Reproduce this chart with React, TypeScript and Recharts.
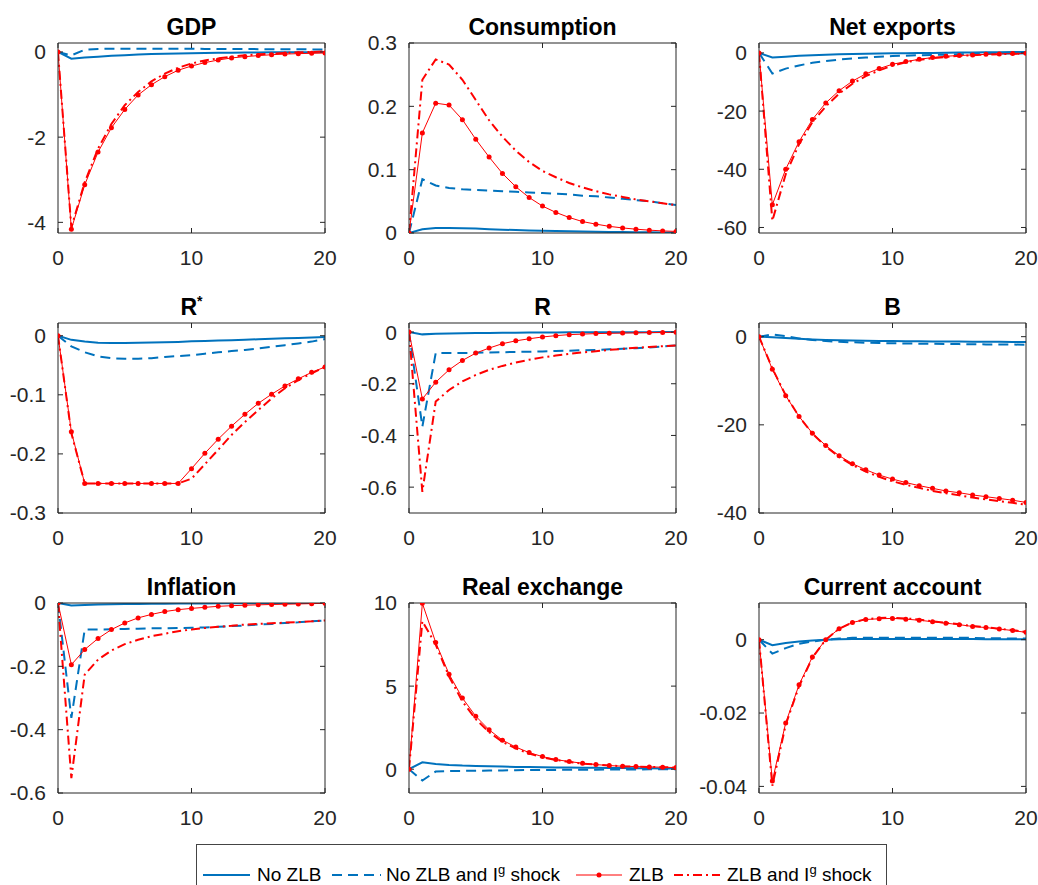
import React from 'react';
import { LineChart, Line, XAxis, YAxis } from 'recharts';

const periods = [0, 1, 2, 3, 4, 5, 6, 7, 8, 9, 10, 11, 12, 13, 14, 15, 16, 17, 18, 19, 20];
const xTicks = [0, 10, 20];

const seriesNames = ['No ZLB', 'No ZLB and I^g shock', 'ZLB', 'ZLB and I^g shock'];

// GDP
const gdpNoZLB = [0, -0.16, -0.13, -0.11, -0.09, -0.075, -0.062, -0.051, -0.042, -0.035, -0.029, -0.024, -0.02, -0.016, -0.013, -0.011, -0.009, -0.007, -0.006, -0.005, -0.004];
const gdpNoZLBIg = [0, -0.08, 0.05, 0.07, 0.075, 0.075, 0.075, 0.075, 0.075, 0.075, 0.075, 0.072, 0.07, 0.07, 0.068, 0.066, 0.065, 0.063, 0.062, 0.06, 0.058];
const gdpZLB = [0, -4.16, -3.12, -2.35, -1.78, -1.35, -1.01, -0.77, -0.58, -0.43, -0.33, -0.25, -0.19, -0.14, -0.11, -0.086, -0.065, -0.05, -0.04, -0.032, -0.025];
const gdpZLBIg = [0, -4.12, -3.06, -2.27, -1.69, -1.25, -0.94, -0.69, -0.51, -0.37, -0.27, -0.2, -0.15, -0.11, -0.08, -0.055, -0.04, -0.025, -0.012, 0, 0.01];
const gdpTicks = [-4, -2, 0];

// Consumption
const conNoZLB = [0, 0.006, 0.008, 0.008, 0.0075, 0.007, 0.006, 0.0053, 0.0046, 0.004, 0.0035, 0.003, 0.0026, 0.0022, 0.0019, 0.0016, 0.0014, 0.0012, 0.001, 0.0009, 0.0008];
const conNoZLBIg = [0, 0.085, 0.075, 0.071, 0.069, 0.068, 0.067, 0.066, 0.065, 0.064, 0.063, 0.062, 0.061, 0.059, 0.058, 0.056, 0.054, 0.052, 0.05, 0.047, 0.044];
const conZLB = [0, 0.158, 0.205, 0.202, 0.179, 0.148, 0.12, 0.094, 0.073, 0.056, 0.0425, 0.0325, 0.0245, 0.018, 0.014, 0.0105, 0.008, 0.006, 0.0045, 0.0033, 0.0025];
const conZLBIg = [0, 0.242, 0.274, 0.266, 0.242, 0.21, 0.178, 0.152, 0.13, 0.112, 0.098, 0.088, 0.079, 0.072, 0.066, 0.061, 0.057, 0.053, 0.05, 0.047, 0.044];
const conTicks = [0, 0.1, 0.2, 0.3];

// Net exports
const nxNoZLB = [0, -1.6, -1.3, -1.0, -0.8, -0.6, -0.5, -0.4, -0.3, -0.2, -0.15, -0.1, -0.05, 0, 0.05, 0.1, 0.15, 0.2, 0.25, 0.3, 0.3];
const nxNoZLBIg = [0, -7.1, -5.4, -4.3, -3.4, -2.8, -2.3, -1.9, -1.6, -1.3, -1.1, -0.95, -0.8, -0.7, -0.6, -0.5, -0.4, -0.3, -0.25, -0.2, -0.15];
const nxZLB = [0, -52.2, -40, -30.5, -22.9, -17.2, -13, -9.7, -7.2, -5.4, -3.9, -3.0, -2.2, -1.6, -1.15, -0.9, -0.7, -0.5, -0.35, -0.25, -0.15];
const nxZLBIg = [0, -57.7, -41.7, -31.4, -23.8, -18.4, -14, -10.6, -8, -6, -4.4, -3.2, -2.4, -1.8, -1.4, -1.0, -0.8, -0.6, -0.45, -0.35, -0.2];
const nxTicks = [-60, -40, -20, 0];

// R*
const rsNoZLB = [0, -0.007, -0.01, -0.012, -0.0125, -0.0125, -0.012, -0.0115, -0.011, -0.0105, -0.0095, -0.009, -0.0083, -0.0075, -0.0068, -0.006, -0.0053, -0.0045, -0.0038, -0.003, -0.0023];
const rsNoZLBIg = [0, -0.018, -0.028, -0.035, -0.038, -0.039, -0.039, -0.038, -0.036, -0.0345, -0.033, -0.0305, -0.028, -0.026, -0.024, -0.0215, -0.0187, -0.016, -0.013, -0.01, -0.0057];
const rsZLB = [0, -0.1626, -0.25, -0.25, -0.25, -0.25, -0.25, -0.25, -0.25, -0.25, -0.225, -0.199, -0.175, -0.153, -0.133, -0.1145, -0.099, -0.085, -0.073, -0.062, -0.053];
const rsZLBIg = [0, -0.165, -0.25, -0.25, -0.25, -0.25, -0.25, -0.25, -0.25, -0.25, -0.242, -0.2175, -0.193, -0.168, -0.146, -0.126, -0.106, -0.089, -0.075, -0.0635, -0.053];
const rsTicks = [-0.3, -0.2, -0.1, 0];

// R
const rNoZLB = [0, -0.009, -0.007, -0.006, -0.005, -0.004, -0.0035, -0.003, -0.0025, -0.002, -0.0018, -0.0015, -0.0012, -0.001, -0.0008, -0.0006, -0.0005, -0.0004, -0.0003, -0.0002, -0.0001];
const rNoZLBIg = [0, -0.366, -0.0815, -0.0815, -0.081, -0.08, -0.079, -0.078, -0.077, -0.076, -0.075, -0.0735, -0.072, -0.0705, -0.069, -0.067, -0.065, -0.0625, -0.06, -0.056, -0.052];
const rZLB = [0, -0.259, -0.194, -0.146, -0.11, -0.0815, -0.062, -0.045, -0.034, -0.026, -0.019, -0.014, -0.01, -0.008, -0.006, -0.005, -0.004, -0.003, -0.002, -0.0015, -0.001];
const rZLBIg = [0, -0.618, -0.269, -0.224, -0.191, -0.166, -0.146, -0.131, -0.118, -0.107, -0.098, -0.091, -0.084, -0.079, -0.074, -0.069, -0.065, -0.061, -0.058, -0.055, -0.052];
const rTicks = [-0.6, -0.4, -0.2, 0];

// B
const bNoZLB = [0, -0.15, -0.3, -0.5, -0.65, -0.75, -0.82, -0.88, -0.93, -0.97, -1.0, -1.03, -1.06, -1.08, -1.1, -1.12, -1.14, -1.16, -1.18, -1.2, -1.22];
const bNoZLBIg = [0, 0.5, 0.1, -0.4, -0.76, -1.0, -1.15, -1.28, -1.37, -1.45, -1.5, -1.55, -1.59, -1.63, -1.66, -1.69, -1.72, -1.75, -1.77, -1.8, -1.82];
const bZLB = [0, -7.4, -13.4, -18.1, -21.9, -24.7, -27.0, -28.8, -30.2, -31.4, -32.3, -33.1, -33.8, -34.4, -35.0, -35.4, -35.9, -36.3, -36.7, -37.1, -37.6];
const bZLBIg = [0, -7.2, -13.3, -18.1, -22.0, -24.9, -27.3, -29.1, -30.6, -31.8, -32.8, -33.6, -34.3, -35.0, -35.5, -36.0, -36.5, -36.9, -37.3, -37.7, -38.1];
const bTicks = [-40, -20, 0];

// Inflation
const infNoZLB = [0, -0.0075, -0.006, -0.005, -0.004, -0.0035, -0.003, -0.0025, -0.002, -0.0018, -0.0015, -0.0012, -0.001, -0.0008, -0.0006, -0.0005, -0.0004, -0.0003, -0.0002, -0.0001, 0];
const infNoZLBIg = [0, -0.363, -0.084, -0.084, -0.083, -0.082, -0.081, -0.08, -0.08, -0.079, -0.078, -0.077, -0.075, -0.073, -0.071, -0.068, -0.066, -0.063, -0.061, -0.058, -0.055];
const infZLB = [0, -0.195, -0.147, -0.112, -0.084, -0.063, -0.047, -0.036, -0.027, -0.021, -0.017, -0.0137, -0.0105, -0.0085, -0.007, -0.0058, -0.0047, -0.0038, -0.003, -0.002, -0.001];
const infZLBIg = [0, -0.553, -0.226, -0.179, -0.15, -0.13, -0.116, -0.105, -0.097, -0.089, -0.084, -0.079, -0.075, -0.072, -0.068, -0.066, -0.064, -0.062, -0.06, -0.058, -0.055];
const infTicks = [-0.6, -0.4, -0.2, 0];

// Real exchange
const rerNoZLB = [0, 0.42, 0.32, 0.26, 0.22, 0.2, 0.18, 0.16, 0.14, 0.13, 0.12, 0.11, 0.1, 0.09, 0.085, 0.08, 0.07, 0.06, 0.055, 0.05, 0.04];
const rerNoZLBIg = [0, -0.68, -0.14, -0.11, -0.1, -0.09, -0.08, -0.07, -0.06, -0.05, -0.045, -0.04, -0.035, -0.03, -0.025, -0.02, -0.015, -0.01, -0.008, -0.005, 0];
const rerZLB = [0, 9.98, 7.63, 5.72, 4.28, 3.19, 2.37, 1.75, 1.33, 1.0, 0.76, 0.58, 0.46, 0.36, 0.28, 0.22, 0.18, 0.16, 0.14, 0.12, 0.1];
const rerZLBIg = [0, 8.9, 7.5, 5.58, 4.08, 3.01, 2.23, 1.65, 1.25, 0.94, 0.72, 0.56, 0.44, 0.34, 0.28, 0.22, 0.18, 0.16, 0.14, 0.12, 0.1];
const rerTicks = [0, 5, 10];

// Current account
const caNoZLB = [0, -0.0015, -0.0009, -0.0005, -0.0002, 0, 0.0001, 0.0002, 0.0002, 0.0002, 0.0002, 0.0002, 0.0002, 0.0002, 0.0002, 0.0002, 0.0002, 0.0001, 0.0001, 0.0001, 0.0001];
const caNoZLBIg = [0, -0.0038, -0.0023, -0.0011, -0.0005, 0, 0.0003, 0.0005, 0.0005, 0.0005, 0.0005, 0.0005, 0.0005, 0.0005, 0.0005, 0.0005, 0.0005, 0.0004, 0.0004, 0.0003, 0.0003];
const caZLB = [0, -0.0385, -0.0227, -0.0123, -0.0047, 0, 0.003, 0.0047, 0.0055, 0.0057, 0.0058, 0.0056, 0.0053, 0.0049, 0.0045, 0.0041, 0.0036, 0.0033, 0.0029, 0.0025, 0.002];
const caZLBIg = [0, -0.0398, -0.0232, -0.0127, -0.0049, 0, 0.003, 0.0047, 0.0056, 0.0059, 0.006, 0.0058, 0.0055, 0.005, 0.0046, 0.0042, 0.0037, 0.0034, 0.003, 0.0026, 0.0021];
const caTicks = [-0.04, -0.02, 0];

const BLUE = '#0072BD';
const RED = '#FF0000';
const AX = '#262626';
const FONT = '"Liberation Sans", Arial, Helvetica, sans-serif';

const ML = 75;
const MT = 45;
const MR = 15;
const MB = 45;
const PW = 267;
const PH = 190;
const COLS = [58, 409, 759];
const ROWS = [43, 323, 603];
const TICK_FS = 21;

type Spec = {
  title: string;
  sup?: string;
  col: number;
  row: number;
  domain: [number, number];
  ticks: number[];
  s: number[][];
};

const specs: Spec[] = [
  { title: 'GDP', col: 0, row: 0, domain: [-4.25, 0.21], ticks: gdpTicks, s: [gdpNoZLB, gdpNoZLBIg, gdpZLB, gdpZLBIg] },
  { title: 'Consumption', col: 1, row: 0, domain: [0, 0.3], ticks: conTicks, s: [conNoZLB, conNoZLBIg, conZLB, conZLBIg] },
  { title: 'Net exports', col: 2, row: 0, domain: [-61.9, 3.4], ticks: nxTicks, s: [nxNoZLB, nxNoZLBIg, nxZLB, nxZLBIg] },
  { title: 'R', sup: '*', col: 0, row: 1, domain: [-0.3, 0.0215], ticks: rsTicks, s: [rsNoZLB, rsNoZLBIg, rsZLB, rsZLBIg] },
  { title: 'R', col: 1, row: 1, domain: [-0.7, 0.035], ticks: rTicks, s: [rNoZLB, rNoZLBIg, rZLB, rZLBIg] },
  { title: 'B', col: 2, row: 1, domain: [-40, 3.1], ticks: bTicks, s: [bNoZLB, bNoZLBIg, bZLB, bZLBIg] },
  { title: 'Inflation', col: 0, row: 2, domain: [-0.6, 0], ticks: infTicks, s: [infNoZLB, infNoZLBIg, infZLB, infZLBIg] },
  { title: 'Real exchange', col: 1, row: 2, domain: [-1.43, 10], ticks: rerTicks, s: [rerNoZLB, rerNoZLBIg, rerZLB, rerZLBIg] },
  { title: 'Current account', col: 2, row: 2, domain: [-0.0418, 0.01], ticks: caTicks, s: [caNoZLB, caNoZLBIg, caZLB, caZLBIg] },
];

const fmt = (v: number) => String(v);
const blank = () => '';

function Panel({ spec }: { spec: Spec }) {
  const data = periods.map((t, i) => ({
    t,
    a: spec.s[0][i],
    b: spec.s[1][i],
    c: spec.s[2][i],
    d: spec.s[3][i],
  }));
  const left = COLS[spec.col];
  const top = ROWS[spec.row];
  const tickStyle = { fill: AX, fontSize: TICK_FS };
  return (
    <div style={{ position: 'absolute', left: left - ML, top: top - MT, width: ML + PW + MR, height: MT + PH + MB, fontSize: TICK_FS }}>
      <LineChart
        width={ML + PW + MR}
        height={MT + PH + MB}
        data={data}
        margin={{ top: MT - 1, left: ML - 1, right: MR - 1, bottom: MB - 1 }}
        style={{ fontSize: TICK_FS }}
      >
        <XAxis dataKey="t" type="number" domain={[0, 20]} ticks={xTicks} interval={0} height={1} fontSize={TICK_FS}
          tickSize={-5} tickMargin={22} stroke={AX} tick={tickStyle} tickFormatter={fmt} allowDataOverflow />
        <XAxis xAxisId="top" orientation="top" dataKey="t" type="number" domain={[0, 20]} ticks={xTicks} interval={0} height={1}
          tickSize={-5} stroke={AX} tickFormatter={blank} allowDataOverflow />
        <YAxis type="number" domain={spec.domain} ticks={spec.ticks} interval={0} width={1} fontSize={TICK_FS}
          tickSize={-5} tickMargin={17} stroke={AX} tick={tickStyle} tickFormatter={fmt} allowDataOverflow />
        <YAxis yAxisId="right" orientation="right" type="number" domain={spec.domain} ticks={spec.ticks} interval={0} width={1}
          tickSize={-5} stroke={AX} tickFormatter={blank} allowDataOverflow />
        <Line dataKey="a" name={seriesNames[0]} stroke={BLUE} strokeWidth={2} dot={false} isAnimationActive={false} type="linear" />
        <Line dataKey="b" name={seriesNames[1]} stroke={BLUE} strokeWidth={2} strokeDasharray="10 6" dot={false} isAnimationActive={false} type="linear" />
        <Line dataKey="c" name={seriesNames[2]} stroke={RED} strokeWidth={1} dot={{ r: 2.5, fill: RED, stroke: RED, strokeWidth: 0 }} isAnimationActive={false} type="linear" />
        <Line dataKey="d" name={seriesNames[3]} stroke={RED} strokeWidth={2} strokeDasharray="9 4 2 4" dot={false} isAnimationActive={false} type="linear" />
      </LineChart>
      <svg style={{ position: 'absolute', left: ML, top: 0 }} width={PW} height={MT}>
        <text x={PW / 2} y={MT - 8} textAnchor="middle" fontSize={23} fontWeight="bold" fill="#000">
          {spec.title}
          {spec.sup ? <tspan dy={-9} fontSize={14}>{spec.sup}</tspan> : null}
        </text>
      </svg>
    </div>
  );
}

function LegendBox() {
  const y = 31;
  const ty = 37;
  return (
    <svg style={{ position: 'absolute', left: 196, top: 844 }} width={691} height={45}>
      <rect x={0.5} y={0.5} width={690} height={50} fill="#fff" stroke="#444" strokeWidth={1} />
      <line x1={7} x2={54} y1={y} y2={y} stroke={BLUE} strokeWidth={2} />
      <text x={61} y={ty} fontSize={19} fill="#000">No ZLB</text>
      <line x1={136} x2={185} y1={y} y2={y} stroke={BLUE} strokeWidth={2} strokeDasharray="10 6" />
      <text x={190} y={ty} fontSize={19} fill="#000">
        No ZLB and I<tspan dy={-7} fontSize={13}>g</tspan><tspan dy={7}> shock</tspan>
      </text>
      <line x1={380} x2={426} y1={y} y2={y} stroke={RED} strokeWidth={1} />
      <circle cx={403} cy={y} r={2.5} fill={RED} />
      <text x={433} y={ty} fontSize={19} fill="#000">ZLB</text>
      <line x1={478} x2={524} y1={y} y2={y} stroke={RED} strokeWidth={2} strokeDasharray="9 4 2 4" />
      <text x={531} y={ty} fontSize={19} fill="#000">
        ZLB and I<tspan dy={-7} fontSize={13}>g</tspan><tspan dy={7}> shock</tspan>
      </text>
    </svg>
  );
}

export default function App() {
  return (
    <div style={{ position: 'absolute', left: 0, top: 0, width: 1038, height: 885, overflow: 'hidden', background: '#fff', fontFamily: FONT }}>
      {specs.map((s, i) => (
        <Panel key={i} spec={s} />
      ))}
      <LegendBox />
    </div>
  );
}
